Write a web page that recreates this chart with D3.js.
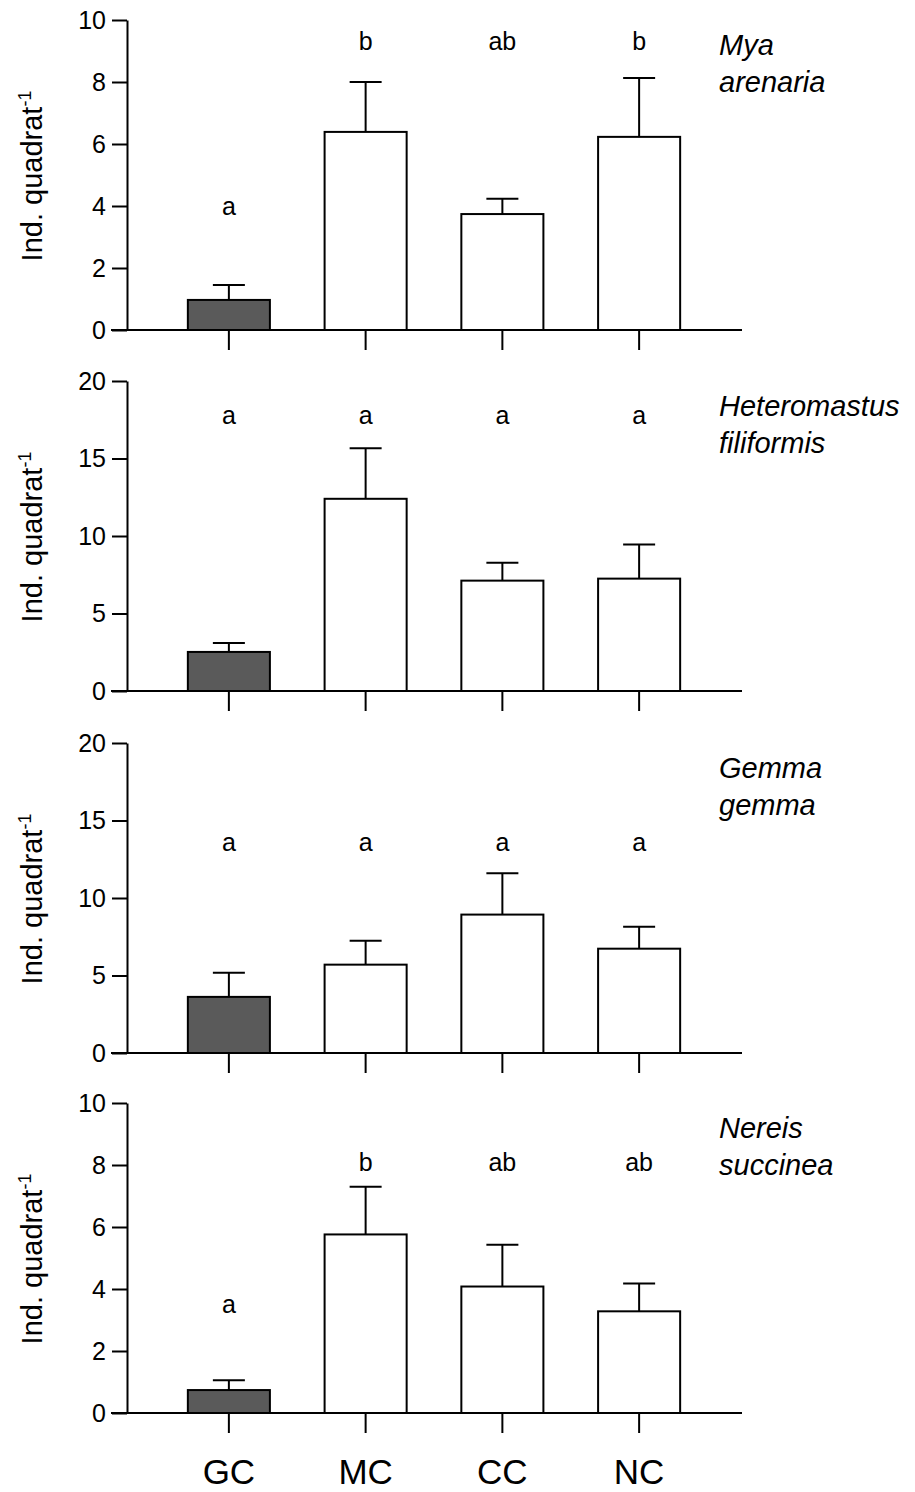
<!DOCTYPE html>
<html>
<head>
<meta charset="utf-8">
<script src="https://cdn.jsdelivr.net/npm/d3@7"></script>
<style>
  body { margin: 0; background: #fff; }
  text { font-family: "Liberation Sans", Arial, sans-serif; }
</style>
</head>
<body>
<div id="chart"></div>
<script>
const sites = ["GC", "MC", "CC", "NC"];

const species = [["Mya", "arenaria"], ["Heteromastus", "filiformis"], ["Gemma", "gemma"], ["Nereis", "succinea"]];
const yMax = [10, 20, 20, 10];
const yTicks = [[0, 2, 4, 6, 8, 10], [0, 5, 10, 15, 20], [0, 5, 10, 15, 20], [0, 2, 4, 6, 8, 10]];

// means and upper error (mean + SE) per site
const means = [
  [0.97, 6.39, 3.74, 6.23],
  [2.52, 12.4, 7.12, 7.25],
  [3.62, 5.7, 8.93, 6.73],
  [0.74, 5.76, 4.08, 3.28]
];
const upper = [
  [1.45, 8.0, 4.23, 8.13],
  [3.1, 15.66, 8.28, 9.45],
  [5.18, 7.25, 11.6, 8.15],
  [1.06, 7.3, 5.43, 4.18]
];
const letters = [
  ["a", "b", "ab", "b"],
  ["a", "a", "a", "a"],
  ["a", "a", "a", "a"],
  ["a", "b", "ab", "ab"]
];
const letterLevel = [
  [4, 9.3, 9.3, 9.3],
  [17.8, 17.8, 17.8, 17.8],
  [13.6, 13.6, 13.6, 13.6],
  [3.5, 8.1, 8.1, 8.1]
];

const width = 915, height = 1492;
const panelTop = [20, 381, 743, 1103];
const panelH = 310;
const axisX = 127;

const svg = d3.select("#chart").append("svg")
    .attr("width", width)
    .attr("height", height);

const x = d3.scaleBand()
    .domain(sites)
    .range([160.5, 707.5])
    .paddingInner(0.4)
    .paddingOuter(0.2);

species.forEach((sp, i) => {
  const g = svg.append("g");
  const y = d3.scaleLinear()
      .domain([0, yMax[i]])
      .range([panelTop[i] + panelH, panelTop[i]]);

  // y axis
  g.append("g")
      .attr("transform", `translate(${axisX},0)`)
      .call(d3.axisLeft(y).tickValues(yTicks[i]).tickSize(15).tickSizeOuter(0).tickPadding(6))
      .call(a => a.selectAll("line, path").attr("stroke", "#000").attr("stroke-width", 2))
      .call(a => a.selectAll("text").attr("font-size", 25).attr("fill", "#000"));

  // bars
  g.selectAll("rect")
    .data(sites)
    .join("rect")
      .attr("x", d => x(d))
      .attr("y", (d, j) => y(means[i][j]))
      .attr("width", x.bandwidth())
      .attr("height", (d, j) => y(0) - y(means[i][j]))
      .attr("fill", (d, j) => j === 0 ? "#5a5a5a" : "#fff")
      .attr("stroke", "#000")
      .attr("stroke-width", 2);

  // error bars
  const err = g.append("g").attr("stroke", "#000").attr("stroke-width", 2);
  err.selectAll(".stem")
    .data(sites)
    .join("line")
      .attr("x1", d => x(d) + x.bandwidth() / 2)
      .attr("x2", d => x(d) + x.bandwidth() / 2)
      .attr("y1", (d, j) => y(means[i][j]))
      .attr("y2", (d, j) => y(upper[i][j]));
  err.selectAll(".cap")
    .data(sites)
    .join("line")
      .attr("x1", d => x(d) + x.bandwidth() / 2 - 16)
      .attr("x2", d => x(d) + x.bandwidth() / 2 + 16)
      .attr("y1", (d, j) => y(upper[i][j]))
      .attr("y2", (d, j) => y(upper[i][j]));

  // x axis baseline and ticks
  g.append("line")
      .attr("x1", 111).attr("x2", 742)
      .attr("y1", y(0)).attr("y2", y(0))
      .attr("stroke", "#000").attr("stroke-width", 2);
  g.append("g")
      .attr("transform", `translate(0,${y(0)})`)
      .call(d3.axisBottom(x).tickSize(20).tickSizeOuter(0).tickFormat(""))
      .call(a => a.select(".domain").remove())
      .call(a => a.selectAll("line").attr("stroke", "#000").attr("stroke-width", 2));

  // significance letters
  g.selectAll(".letter")
    .data(sites)
    .join("text")
      .attr("x", d => x(d) + x.bandwidth() / 2)
      .attr("y", (d, j) => y(letterLevel[i][j]))
      .attr("dy", "0.35em")
      .attr("text-anchor", "middle")
      .attr("font-size", 25)
      .text((d, j) => letters[i][j]);

  // species name
  const name = g.append("text")
      .attr("x", 719)
      .attr("y", panelTop[i] + 35)
      .attr("font-style", "italic")
      .attr("font-size", 29);
  name.append("tspan").attr("x", 719).text(sp[0]);
  name.append("tspan").attr("x", 719).attr("dy", 37).text(sp[1]);

  // y label
  const lab = g.append("text")
      .attr("transform", `translate(42,${panelTop[i] + panelH / 2 + 1}) rotate(-90)`)
      .attr("text-anchor", "middle")
      .attr("font-size", 29);
  lab.append("tspan").text("Ind. quadrat");
  lab.append("tspan").attr("dy", -11).attr("font-size", 18).text("-1");
});

// site labels
svg.append("g").selectAll("text")
  .data(sites)
  .join("text")
    .attr("x", d => x(d) + x.bandwidth() / 2)
    .attr("y", 1472)
    .attr("dy", "0.35em")
    .attr("text-anchor", "middle")
    .attr("font-size", 35)
    .text(d => d);
</script>
</body>
</html>
